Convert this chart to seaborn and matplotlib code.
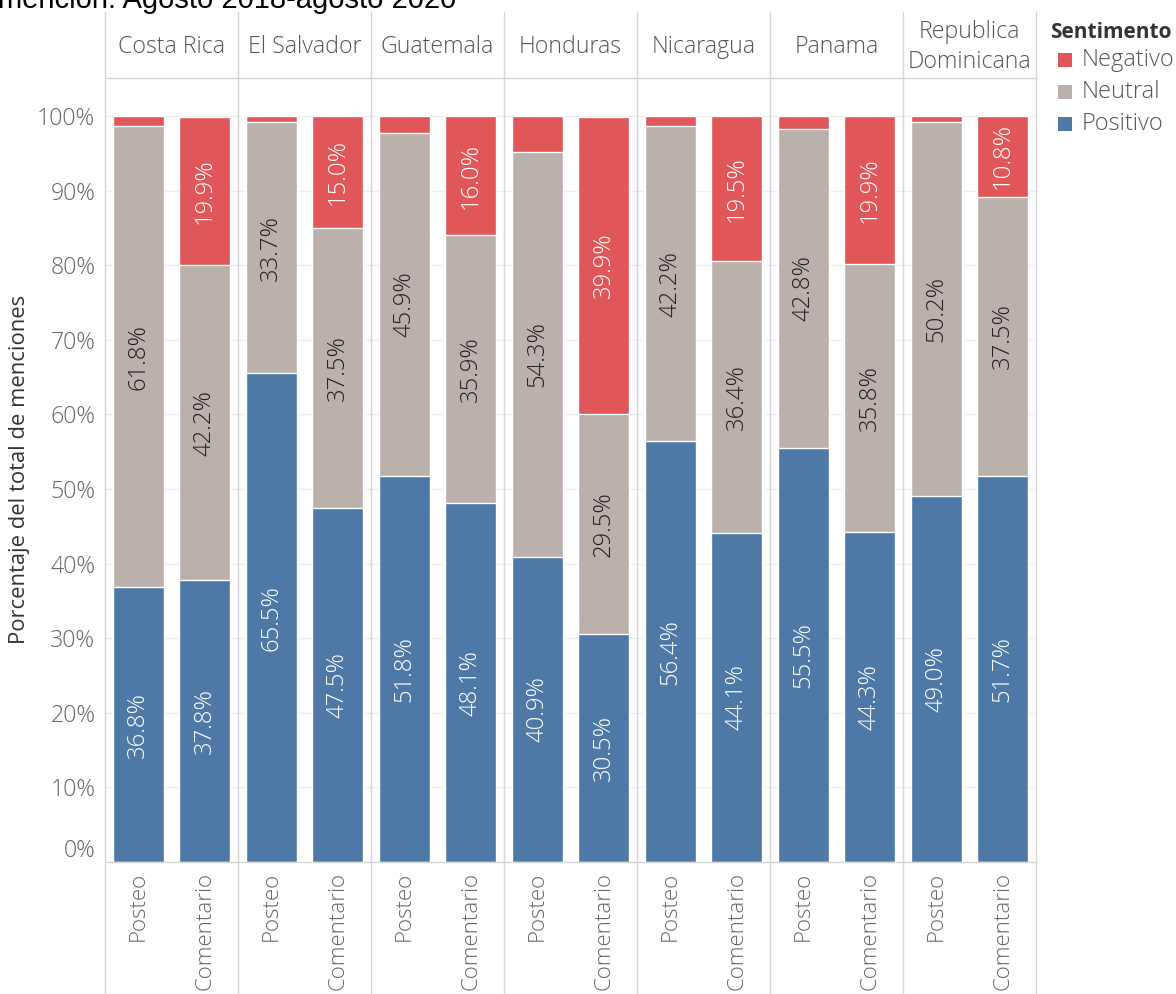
import numpy as np
import pandas as pd
import seaborn as sns
import matplotlib.pyplot as plt
from matplotlib.patches import Rectangle
from matplotlib.lines import Line2D
from matplotlib.transforms import ScaledTranslation

# --- data -------------------------------------------------------------
paises = ["Costa Rica", "El Salvador", "Guatemala", "Honduras",
          "Nicaragua", "Panama", "Republica\nDominicana"]
tipos = ["Posteo", "Comentario"]

# shares (%) per country, in the order Posteo, Comentario
positivo = [36.8, 37.8, 65.5, 47.5, 51.8, 48.1, 40.9, 30.5, 56.4, 44.1, 55.5, 44.3, 49.0, 51.7]
neutral  = [61.8, 42.2, 33.7, 37.5, 45.9, 35.9, 54.3, 29.5, 42.2, 36.4, 42.8, 35.8, 50.2, 37.5]
negativo = [1.4, 19.9, 0.8, 15.0, 2.3, 16.0, 4.8, 39.9, 1.4, 19.5, 1.7, 19.9, 0.8, 10.8]

sentimientos = ["Negativo", "Neutral", "Positivo"]
colores = {"Negativo": "#E15759", "Neutral": "#BAB0AC", "Positivo": "#4E79A7"}

slots = [f"{p}|{t}" for p in paises for t in tipos]
df = pd.DataFrame({
    "slot": slots,
    "Positivo": positivo,
    "Neutral": neutral,
    "Negativo": negativo,
})
df["top_pos"] = df["Positivo"]
df["top_neu"] = df["Positivo"] + df["Neutral"]
df["top_neg"] = df["top_neu"] + df["Negativo"]

# --- style ------------------------------------------------------------
sns.set_style("white")
FAM = ["Open Sans", "DejaVu Sans"]
plt.rcParams["font.family"] = FAM
FS = 16.7        # y ticks and headers
FS_X = 16.0      # x tick labels
FS_LBL = 17.2    # values inside the bars
LIGHT = "light"

W, H = 1176, 994
fig = plt.figure(figsize=(W / 100, H / 100), dpi=100)

def fx(px):
    return px / W

def fy(py):
    return 1 - py / H

left, right, top_hdr, bottom = 105, 1036, 78, 862
ax = fig.add_axes([fx(left), fy(bottom), fx(right - left), (bottom - top_hdr) / H])

# stacked bars: draw cumulative totals from back to front
for col, sent in [("top_neg", "Negativo"), ("top_neu", "Neutral"), ("top_pos", "Positivo")]:
    sns.barplot(data=df, x="slot", y=col, order=slots, color=colores[sent],
                saturation=1, width=0.76, errorbar=None, ax=ax, zorder=3)

ax.set_xlim(-0.5, len(slots) - 0.5)
ymax = 100 + (116 - top_hdr) / ((bottom - 116) / 100)
ax.set_ylim(0, ymax)
for s in ax.spines.values():
    s.set_visible(False)

# gridlines
for v in range(10, 101, 10):
    ax.axhline(v, color="#efefef", lw=1, zorder=0)

ax.set_yticks(range(0, 101, 10))
ax.set_yticklabels([f"{v}%" for v in range(0, 101, 10)], fontweight=LIGHT)
ax.tick_params(axis="y", length=0, pad=7, labelsize=FS, labelcolor="#666666")
zero_lbl = ax.get_yticklabels()[0]
zero_lbl.set_transform(zero_lbl.get_transform() + ScaledTranslation(0, 14 / 100, fig.dpi_scale_trans))

ax.set_xticks(range(len(slots)))
ax.set_xticklabels([t for _ in paises for t in tipos], rotation=90,
                   va="top", ha="center", fontweight=LIGHT)
ax.tick_params(axis="x", length=0, pad=7, labelsize=FS_X, labelcolor="#666666")
ax.set_xlabel("")
ax.set_ylabel("")

# segment labels
for i, row in df.iterrows():
    segs = [("Positivo", 0, row["Positivo"]),
            ("Neutral", row["top_pos"], row["Neutral"]),
            ("Negativo", row["top_neu"], row["Negativo"])]
    for sent, base, val in segs:
        if val < 5:
            continue
        tc = "#222222" if sent == "Neutral" else "#ffffff"
        ax.text(i, base + val / 2, f"{val:.1f}%", rotation=90, ha="center",
                va="center", fontsize=FS_LBL, color=tc, zorder=5, fontweight=LIGHT)

# panel dividers and frame lines
line_col = "#d6d6d6"
for k in range(len(paises) + 1):
    x = left + 133 * k
    fig.add_artist(Line2D([fx(x), fx(x)], [fy(12), 0], color=line_col, lw=1))
fig.add_artist(Line2D([fx(left), fx(right)], [fy(top_hdr), fy(top_hdr)], color=line_col, lw=1))
fig.add_artist(Line2D([fx(left), fx(right)], [fy(bottom), fy(bottom)], color=line_col, lw=1))

# country headers
for k, p in enumerate(paises):
    fig.text(fx(left + 133 * k + 66.5), fy(47), p, ha="center", va="center",
             fontsize=FS, color="#555555", linespacing=1.3, fontweight=LIGHT)

# axis title
fig.text(fx(20), fy(469), "Porcentaje del total de menciones", rotation=90,
         ha="center", va="center", fontsize=15.8, color="#333333")

# title (partly above the canvas)
fig.text(fx(-2), fy(8), "mención: Agosto 2018-agosto 2020", ha="left",
         va="baseline", fontsize=21, color="#000000",
         family=["Liberation Sans", "DejaVu Sans"])

# legend, laid out by hand in pixel positions
fig.text(fx(1050), fy(33), "Sentimento", ha="left", va="center",
         fontsize=15, fontweight="bold", color="#333333")
for j, s in enumerate(sentimientos):
    yc = 60 + 32 * j
    fig.add_artist(Rectangle((fx(1058), fy(yc + 7)), fx(14), 14 / H,
                             facecolor=colores[s], edgecolor="none",
                             transform=fig.transFigure))
    fig.text(fx(1082), fy(yc), s, ha="left", va="center", fontsize=17,
             color="#555555", fontweight=LIGHT)

fig.savefig("out.png", dpi=100)
